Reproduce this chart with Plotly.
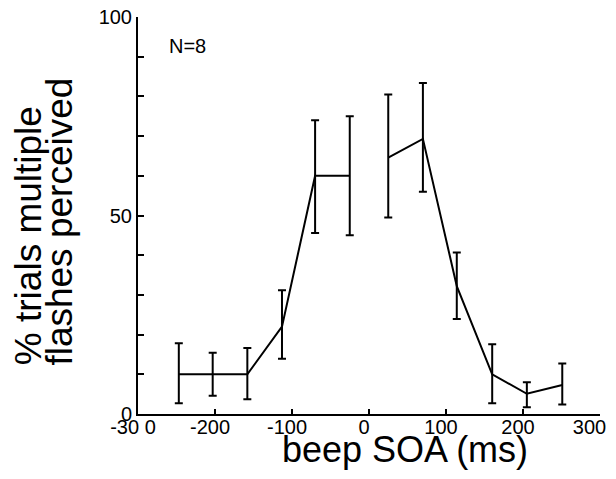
import plotly.graph_objects as go

# beep SOA (ms) and % of trials with multiple flashes perceived
soa = [-247, -203, -158, -113, -70, -25, 25, 70, 114, 160, 205, 251]
pct = [10, 10, 10, 22, 60, 60, 64.6, 69.3, 32.2, 10, 5.1, 7.3]
err_hi = [7.8, 5.4, 6.6, 9.2, 14, 15, 15.9, 14.1, 8.5, 7.6, 2.9, 5.4]
err_lo = [7.3, 5.4, 6.3, 8.1, 14.4, 15, 15.1, 13.3, 8.3, 7.3, 3.4, 4.9]

x_ticks = [-300, -200, -100, 0, 100, 200, 300]
# non-breaking spaces keep the last label inside the page edge
x_labels = ["-30 0", "-200", "-100", "0", "100", "200", "300\u00a0\u00a0"]
y_ticks = [0, 50, 100]

tick_font = dict(family="Liberation Sans, Arial", size=20, color="black")
title_font = dict(family="Liberation Sans, Arial", size=36, color="black")

fig = go.Figure()

# the curve is broken between the negative and positive SOAs
for sl in (slice(0, 6), slice(6, None)):
    fig.add_trace(
        go.Scatter(
            x=soa[sl],
            y=pct[sl],
            mode="lines",
            line=dict(color="black", width=2),
            error_y=dict(
                type="data",
                symmetric=False,
                array=err_hi[sl],
                arrayminus=err_lo[sl],
                color="black",
                thickness=2,
                width=4,
            ),
            showlegend=False,
        )
    )

# page body has an 8px margin, so the figure is smaller than the window
fig.update_layout(
    width=600,
    height=463,
    margin=dict(l=130, r=8, t=9, b=57),
    paper_bgcolor="white",
    plot_bgcolor="white",
    xaxis=dict(
        range=[-300, 300],
        tickvals=x_ticks,
        ticktext=x_labels,
        ticks="inside",
        ticklen=5,
        tickwidth=2,
        tickcolor="black",
        showline=True,
        linecolor="black",
        linewidth=2,
        showgrid=False,
        zeroline=False,
        automargin=False,
        ticklabeloverflow="allow",
        ticklabelstandoff=-6,
        ticklabelshift=-5,
        tickfont=tick_font,
    ),
    yaxis=dict(
        range=[0, 100],
        tickvals=y_ticks,
        ticks="inside",
        ticklen=6,
        tickwidth=2,
        tickcolor="black",
        minor=dict(dtick=10, ticks="inside", ticklen=6, tickwidth=2, tickcolor="black"),
        showline=True,
        linecolor="black",
        linewidth=2,
        showgrid=False,
        zeroline=False,
        automargin=False,
        ticklabeloverflow="allow",
        tickfont=tick_font,
    ),
    annotations=[
        dict(
            text="beep SOA (ms)",
            xref="paper", yref="paper",
            x=0.578, y=-0.09,
            xanchor="center", yanchor="middle",
            showarrow=False, font=title_font,
        ),
        dict(
            text="% trials multiple",
            xref="paper", yref="paper",
            x=-0.237, y=0.118,
            xanchor="center", yanchor="bottom",
            textangle=-90,
            showarrow=False, font=dict(title_font, size=37),
        ),
        dict(
            text="flashes perceived",
            xref="paper", yref="paper",
            x=-0.17, y=0.118,
            xanchor="center", yanchor="bottom",
            textangle=-90,
            showarrow=False, font=dict(title_font, size=37),
        ),
        dict(
            text="N=8",
            xref="paper", yref="paper",
            x=0.108, y=0.927,
            xanchor="center", yanchor="middle",
            showarrow=False,
            font=dict(family="Liberation Sans, Arial", size=20, color="black"),
        ),
    ],
)

fig.write_html("out.html")
